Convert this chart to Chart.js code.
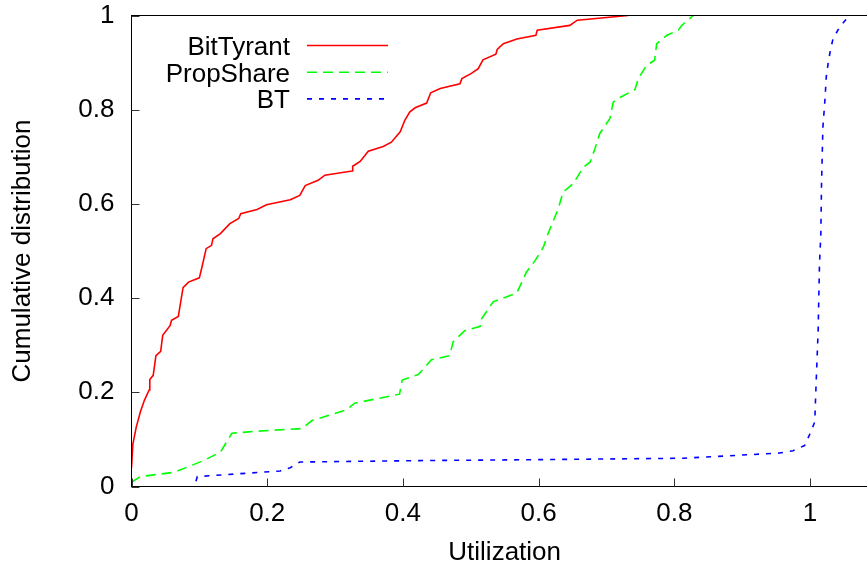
<!DOCTYPE html>
<html>
<head>
<meta charset="utf-8">
<script src="https://cdn.jsdelivr.net/npm/chart.js@4/dist/chart.umd.min.js"></script>
<style>
  html, body { margin: 0; padding: 0; background: #fff; overflow: hidden; }
  canvas { display: block; }
</style>
</head>
<body>
<canvas id="cdf" width="880" height="567"></canvas>
<script>
// Series names, in legend order
const seriesNames = ['BitTyrant', 'PropShare', 'BT'];

// Axis tick values
const xTickValues = [0, 0.2, 0.4, 0.6, 0.8, 1];
const yTickValues = [0, 0.2, 0.4, 0.6, 0.8, 1];

// BitTyrant: utilization vs. cumulative fraction
const bitTyrantX = [0, 0.002, 0.007, 0.013, 0.019, 0.026, 0.027, 0.032, 0.036, 0.043, 0.046, 0.057, 0.059, 0.069, 0.076, 0.084, 0.1, 0.105, 0.11, 0.118, 0.12, 0.131, 0.145, 0.158, 0.161, 0.185, 0.199, 0.234, 0.248, 0.256, 0.275, 0.285, 0.325, 0.326, 0.337, 0.349, 0.371, 0.383, 0.396, 0.403, 0.41, 0.418, 0.435, 0.441, 0.455, 0.484, 0.487, 0.501, 0.511, 0.518, 0.537, 0.539, 0.548, 0.568, 0.596, 0.598, 0.646, 0.657, 0.732];
const bitTyrantY = [0.04, 0.09, 0.126, 0.158, 0.183, 0.205, 0.227, 0.236, 0.278, 0.287, 0.321, 0.342, 0.353, 0.361, 0.422, 0.434, 0.443, 0.473, 0.505, 0.512, 0.526, 0.537, 0.558, 0.569, 0.579, 0.588, 0.598, 0.609, 0.618, 0.639, 0.65, 0.661, 0.67, 0.68, 0.69, 0.712, 0.722, 0.731, 0.753, 0.778, 0.795, 0.804, 0.814, 0.836, 0.845, 0.855, 0.866, 0.877, 0.887, 0.906, 0.918, 0.928, 0.94, 0.95, 0.958, 0.969, 0.979, 0.99, 1.0];

// PropShare
const propShareX = [0, 0.013, 0.062, 0.082, 0.106, 0.131, 0.148, 0.18, 0.251, 0.266, 0.317, 0.329, 0.395, 0.399, 0.423, 0.442, 0.469, 0.474, 0.491, 0.514, 0.516, 0.533, 0.568, 0.582, 0.595, 0.607, 0.614, 0.629, 0.636, 0.651, 0.666, 0.676, 0.683, 0.69, 0.705, 0.71, 0.72, 0.742, 0.747, 0.759, 0.771, 0.774, 0.789, 0.806, 0.811, 0.828];
const propShareY = [0.009, 0.021, 0.03, 0.041, 0.055, 0.073, 0.113, 0.117, 0.123, 0.14, 0.163, 0.177, 0.196, 0.226, 0.238, 0.269, 0.278, 0.307, 0.331, 0.34, 0.356, 0.392, 0.411, 0.455, 0.48, 0.508, 0.537, 0.59, 0.625, 0.643, 0.678, 0.689, 0.717, 0.749, 0.781, 0.816, 0.826, 0.843, 0.866, 0.894, 0.905, 0.94, 0.958, 0.969, 0.979, 1.0];

// BT (standard client)
const btX = [0.095, 0.097, 0.219, 0.234, 0.248, 0.425, 0.6, 0.813, 0.955, 0.975, 0.992, 1.0, 1.007, 1.009, 1.012, 1.014, 1.016, 1.017, 1.019, 1.022, 1.024, 1.027, 1.03, 1.034, 1.044, 1.058];
const btY = [0.011, 0.021, 0.033, 0.04, 0.052, 0.055, 0.057, 0.06, 0.071, 0.076, 0.087, 0.112, 0.137, 0.218, 0.331, 0.473, 0.537, 0.643, 0.763, 0.82, 0.87, 0.901, 0.926, 0.951, 0.976, 1.0];

const toPoints = (xs, ys) => xs.map((x, i) => ({ x: x, y: ys[i] }));

const FONT = 'Liberation Sans, Arial, Helvetica, sans-serif';
const fmt = v => String(Math.round(v * 10) / 10);

// Frame and inward tick marks, gnuplot style
const framePlugin = {
  id: 'frame',
  afterDatasetsDraw(chart) {
    const { ctx, chartArea: a, scales } = chart;
    ctx.save();
    ctx.strokeStyle = '#000';
    ctx.lineWidth = 1;
    ctx.strokeRect(a.left, a.top, a.right - a.left, a.bottom - a.top);
    ctx.strokeStyle = '#333';
    const len = 8;
    ctx.beginPath();
    xTickValues.forEach(v => {
      const px = Math.round(scales.x.getPixelForValue(v)) + 0.5;
      ctx.moveTo(px, a.bottom);
      ctx.lineTo(px, a.bottom - len);
    });
    yTickValues.forEach(v => {
      const py = Math.round(scales.y.getPixelForValue(v)) + 0.5;
      ctx.moveTo(a.left, py);
      ctx.lineTo(a.left + len, py);
    });
    ctx.stroke();
    ctx.restore();
  }
};

// Key inside the plot: right-aligned names followed by line samples
const keyPlugin = {
  id: 'key',
  afterDatasetsDraw(chart) {
    const { ctx } = chart;
    ctx.save();
    ctx.font = '26px ' + FONT;
    ctx.textAlign = 'right';
    ctx.textBaseline = 'alphabetic';
    chart.data.datasets.forEach((ds, i) => {
      const y = 45.5 + 26.7 * i;
      ctx.fillStyle = '#000';
      ctx.fillText(ds.label, 290, y + 9.4);
      ctx.strokeStyle = ds.borderColor;
      ctx.lineWidth = ds.borderWidth;
      ctx.setLineDash(ds.borderDash || []);
      ctx.beginPath();
      ctx.moveTo(307, y);
      ctx.lineTo(388, y);
      ctx.stroke();
    });
    ctx.restore();
  }
};

const lineStyle = { pointRadius: 0, pointHoverRadius: 0, borderWidth: 1.6, tension: 0, fill: false };

new Chart(document.getElementById('cdf'), {
  type: 'line',
  data: {
    datasets: [
      Object.assign({ label: seriesNames[0], data: toPoints(bitTyrantX, bitTyrantY), borderColor: '#ff0000', borderDash: [] }, lineStyle),
      Object.assign({ label: seriesNames[1], data: toPoints(propShareX, propShareY), borderColor: '#00ff00', borderDash: [10, 6] }, lineStyle),
      Object.assign({ label: seriesNames[2], data: toPoints(btX, btY), borderColor: '#0000ff', borderDash: [5, 7] }, lineStyle)
    ]
  },
  options: {
    responsive: false,
    animation: false,
    events: [],
    layout: { padding: { top: 15.5, right: 2.15, left: 0, bottom: 0 } },
    plugins: { legend: { display: false }, tooltip: { enabled: false } },
    scales: {
      x: {
        type: 'linear',
        min: 0,
        max: 1.1,
        afterFit: s => { s.height = 80.5; s.paddingLeft = 0; s.paddingRight = 0; },
        afterBuildTicks: s => { s.ticks = xTickValues.map(v => ({ value: v })); },
        ticks: { font: { family: FONT, size: 26 }, color: '#000', padding: 12, maxRotation: 0, callback: fmt },
        grid: { display: false, drawTicks: false },
        border: { display: false },
        title: { display: true, text: 'Utilization', color: '#000', font: { family: FONT, size: 26, lineHeight: 1 }, padding: { top: 0, bottom: 1.5 } }
      },
      y: {
        type: 'linear',
        min: 0,
        max: 1,
        afterFit: s => { s.width = 131.5; s.paddingTop = 0; s.paddingBottom = 0; },
        afterBuildTicks: s => { s.ticks = yTickValues.map(v => ({ value: v })); },
        ticks: { font: { family: FONT, size: 26 }, color: '#000', padding: 17, callback: fmt },
        grid: { display: false, drawTicks: false },
        border: { display: false },
        title: { display: true, text: 'Cumulative distribution', color: '#000', font: { family: FONT, size: 26, lineHeight: 1 }, padding: { top: 10, bottom: 0 } }
      }
    }
  },
  plugins: [framePlugin, keyPlugin]
});
</script>
</body>
</html>
